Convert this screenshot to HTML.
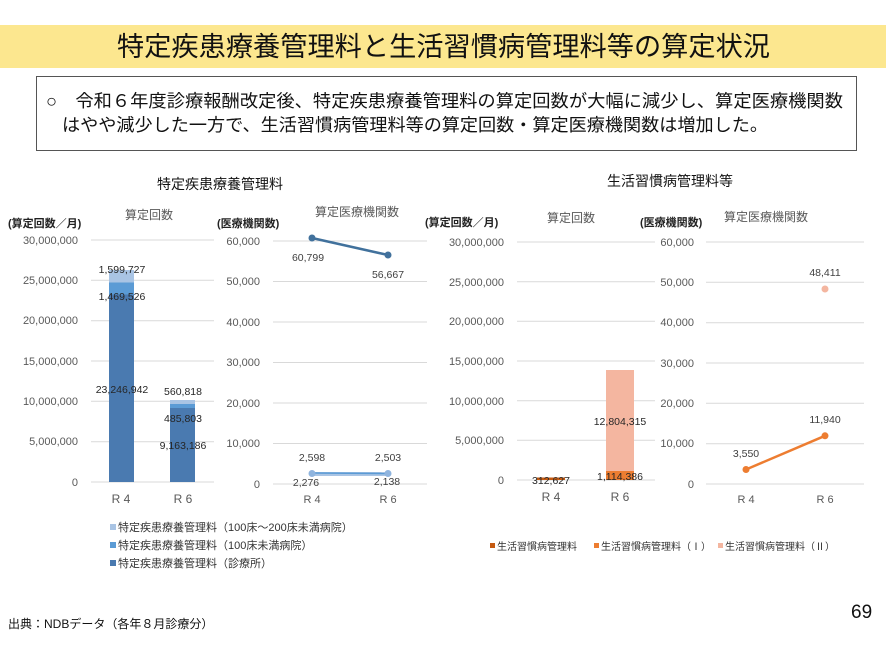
<!DOCTYPE html>
<html><head><meta charset="utf-8"><style>
body{margin:0;background:#fff}
svg{display:block}
text{font-family:"Liberation Sans","Noto Sans CJK JP",sans-serif}
</style></head><body>
<svg width="886" height="664" viewBox="0 0 886 664" xmlns="http://www.w3.org/2000/svg">
<rect x="0" y="25" width="886" height="43" fill="#fce78f"/>
<text x="117" y="56" font-size="27" textLength="653" lengthAdjust="spacingAndGlyphs" fill="#111">特定疾患療養管理料と生活習慣病管理料等の算定状況</text>
<rect x="36.5" y="76.5" width="820" height="74" fill="#fff" stroke="#555" stroke-width="1"/>
<text x="46" y="107" font-size="17.5" textLength="797" lengthAdjust="spacingAndGlyphs" fill="#111">○　令和６年度診療報酬改定後、特定疾患療養管理料の算定回数が大幅に減少し、算定医療機関数</text>
<text x="62" y="131" font-size="17.5" textLength="706" lengthAdjust="spacingAndGlyphs" fill="#111">はやや減少した一方で、生活習慣病管理料等の算定回数・算定医療機関数は増加した。</text>
<text x="220" y="189" font-size="14" text-anchor="middle" fill="#111">特定疾患療養管理料</text>
<text x="670" y="186" font-size="14" text-anchor="middle" fill="#111">生活習慣病管理料等</text>

<g font-size="11" fill="#595959">
<text x="8" y="227" font-weight="bold" fill="#222">(算定回数／月)</text>
<text x="149" y="219" text-anchor="middle" font-size="12">算定回数</text>
<g stroke="#d9d9d9" stroke-width="1">
<line x1="91" x2="214" y1="240" y2="240"/><line x1="91" x2="214" y1="280.3" y2="280.3"/><line x1="91" x2="214" y1="320.7" y2="320.7"/><line x1="91" x2="214" y1="361" y2="361"/><line x1="91" x2="214" y1="401.3" y2="401.3"/><line x1="91" x2="214" y1="441.7" y2="441.7"/><line x1="91" x2="214" y1="482" y2="482"/>
</g>
<g text-anchor="end"><text x="78" y="244">30,000,000</text><text x="78" y="284">25,000,000</text><text x="78" y="324">20,000,000</text><text x="78" y="365">15,000,000</text><text x="78" y="405">10,000,000</text><text x="78" y="445">5,000,000</text><text x="78" y="486">0</text></g>
<rect x="109" y="270" width="25" height="13" fill="#a9c4e4"/>
<rect x="109" y="282.5" width="25" height="12" fill="#5b9bd5"/>
<rect x="109" y="294.5" width="25" height="187.5" fill="#4a7ab0"/>
<rect x="170" y="400" width="25" height="4.5" fill="#a9c4e4"/>
<rect x="170" y="404" width="25" height="4" fill="#5b9bd5"/>
<rect x="170" y="408" width="25" height="74" fill="#4a7ab0"/>
<g text-anchor="middle" fill="#262626" font-size="10.5">
<text x="122" y="273">1,599,727</text><text x="122" y="300">1,469,526</text><text x="122" y="393">23,246,942</text>
<text x="183" y="395">560,818</text><text x="183" y="422">485,803</text><text x="183" y="449">9,163,186</text>
</g>
<text x="121" y="503" text-anchor="middle" font-size="12">R 4</text><text x="183" y="503" text-anchor="middle" font-size="12">R 6</text>

<text x="217" y="227" font-weight="bold" fill="#222">(医療機関数)</text>
<text x="357" y="216" text-anchor="middle" font-size="12">算定医療機関数</text>
<g stroke="#d9d9d9" stroke-width="1">
<line x1="273" x2="427" y1="241" y2="241"/><line x1="273" x2="427" y1="281.5" y2="281.5"/><line x1="273" x2="427" y1="322" y2="322"/><line x1="273" x2="427" y1="362.5" y2="362.5"/><line x1="273" x2="427" y1="403" y2="403"/><line x1="273" x2="427" y1="443.5" y2="443.5"/><line x1="273" x2="427" y1="484" y2="484"/>
</g>
<g text-anchor="end"><text x="260" y="245">60,000</text><text x="260" y="285">50,000</text><text x="260" y="326">40,000</text><text x="260" y="366">30,000</text><text x="260" y="407">20,000</text><text x="260" y="447">10,000</text><text x="260" y="488">0</text></g>
<polyline points="312,238 388,255" fill="none" stroke="#41719c" stroke-width="2.5"/>
<circle cx="312" cy="238" r="3.5" fill="#41719c"/><circle cx="388" cy="255" r="3.5" fill="#41719c"/>
<polyline points="312,474 388,474" fill="none" stroke="#a9c4e4" stroke-width="4"/>
<polyline points="312,473 388,473.5" fill="none" stroke="#5b9bd5" stroke-width="1.5"/>
<circle cx="312" cy="473.5" r="3.5" fill="#8fb4de"/><circle cx="388" cy="473.5" r="3.5" fill="#8fb4de"/>
<g text-anchor="middle" fill="#404040" font-size="10.5">
<text x="308" y="261">60,799</text><text x="388" y="278">56,667</text>
<text x="312" y="461">2,598</text><text x="306" y="486">2,276</text><text x="388" y="461">2,503</text><text x="387" y="485">2,138</text>
</g>
<text x="312" y="503" text-anchor="middle" font-size="11">R 4</text><text x="388" y="503" text-anchor="middle" font-size="11">R 6</text>

<g font-size="11" fill="#333">
<rect x="110" y="524" width="6" height="6" fill="#a9c4e4"/><text x="118" y="531">特定疾患療養管理料（100床～200床未満病院）</text>
<rect x="110" y="542" width="6" height="6" fill="#5b9bd5"/><text x="118" y="549">特定疾患療養管理料（100床未満病院）</text>
<rect x="110" y="560" width="6" height="6" fill="#4a7ab0"/><text x="118" y="567">特定疾患療養管理料（診療所）</text>
</g>

<text x="425" y="226" font-weight="bold" fill="#222">(算定回数／月)</text>
<text x="571" y="222" text-anchor="middle" font-size="12">算定回数</text>
<g stroke="#d9d9d9" stroke-width="1">
<line x1="517" x2="655" y1="242" y2="242"/><line x1="517" x2="655" y1="281.7" y2="281.7"/><line x1="517" x2="655" y1="321.3" y2="321.3"/><line x1="517" x2="655" y1="361" y2="361"/><line x1="517" x2="655" y1="400.7" y2="400.7"/><line x1="517" x2="655" y1="440.3" y2="440.3"/><line x1="517" x2="655" y1="480" y2="480"/>
</g>
<g text-anchor="end"><text x="504" y="246">30,000,000</text><text x="504" y="286">25,000,000</text><text x="504" y="325">20,000,000</text><text x="504" y="365">15,000,000</text><text x="504" y="405">10,000,000</text><text x="504" y="444">5,000,000</text><text x="504" y="484">0</text></g>
<rect x="537" y="477.5" width="28" height="2.5" fill="#c55a11"/>
<rect x="606" y="370" width="28" height="101" fill="#f4b6a0"/>
<rect x="606" y="471" width="28" height="9" fill="#ed7d31"/>
<g text-anchor="middle" fill="#262626" font-size="10.5">
<text x="551" y="484">312,627</text><text x="620" y="480">1,114,386</text><text x="620" y="425">12,804,315</text>
</g>
<text x="551" y="501" text-anchor="middle" font-size="12">R 4</text><text x="620" y="501" text-anchor="middle" font-size="12">R 6</text>

<text x="640" y="226" font-weight="bold" fill="#222">(医療機関数)</text>
<text x="766" y="221" text-anchor="middle" font-size="12">算定医療機関数</text>
<g stroke="#d9d9d9" stroke-width="1">
<line x1="706" x2="864" y1="242" y2="242"/><line x1="706" x2="864" y1="282.3" y2="282.3"/><line x1="706" x2="864" y1="322.7" y2="322.7"/><line x1="706" x2="864" y1="363" y2="363"/><line x1="706" x2="864" y1="403.3" y2="403.3"/><line x1="706" x2="864" y1="443.7" y2="443.7"/><line x1="706" x2="864" y1="484" y2="484"/>
</g>
<g text-anchor="end"><text x="694" y="246">60,000</text><text x="694" y="286">50,000</text><text x="694" y="326">40,000</text><text x="694" y="367">30,000</text><text x="694" y="407">20,000</text><text x="694" y="447">10,000</text><text x="694" y="488">0</text></g>
<polyline points="746,469.5 825,435.8" fill="none" stroke="#ed7d31" stroke-width="2.5"/>
<circle cx="746" cy="469.5" r="3.5" fill="#ed7d31"/><circle cx="825" cy="435.8" r="3.5" fill="#ed7d31"/>
<circle cx="825" cy="289" r="3.5" fill="#f4b6a0"/>
<g text-anchor="middle" fill="#404040" font-size="10.5">
<text x="746" y="457">3,550</text><text x="825" y="423">11,940</text><text x="825" y="276">48,411</text>
</g>
<text x="746" y="503" text-anchor="middle" font-size="11">R 4</text><text x="825" y="503" text-anchor="middle" font-size="11">R 6</text>

<g font-size="10" fill="#333">
<rect x="490" y="543" width="5" height="5" fill="#c55a11"/><text x="497" y="550">生活習慣病管理料</text>
<rect x="594" y="543" width="5" height="5" fill="#ed7d31"/><text x="601" y="550">生活習慣病管理料（Ⅰ）</text>
<rect x="718" y="543" width="5" height="5" fill="#f4b6a0"/><text x="725" y="550">生活習慣病管理料（Ⅱ）</text>
</g>
</g>

<text x="8" y="628" font-size="12" fill="#111">出典：NDBデータ（各年８月診療分）</text>
<text x="851" y="618" font-size="19" fill="#111">69</text>
</svg>
</body></html>
